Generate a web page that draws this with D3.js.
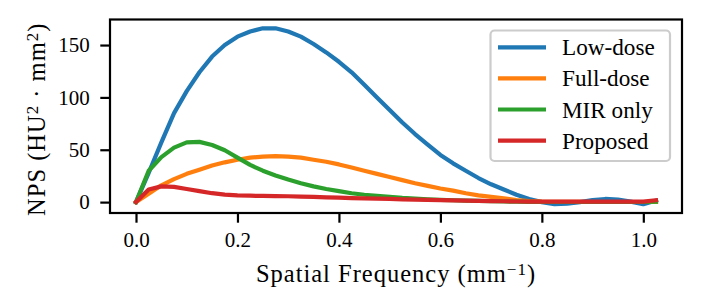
<!DOCTYPE html>
<html>
<head>
<meta charset="utf-8">
<script src="https://cdn.jsdelivr.net/npm/d3@7"></script>
<style>
  body { margin: 0; background: #fff; }
  svg text { font-family: "Liberation Serif", "DejaVu Serif", serif; fill: #000; }
</style>
</head>
<body>
<div id="chart"></div>
<script>
// spatial frequency samples (mm^-1)
const freq = [0, 0.025, 0.05, 0.075, 0.1, 0.125, 0.15, 0.175, 0.2, 0.225, 0.25, 0.275, 0.3, 0.325, 0.35, 0.375,
  0.4, 0.425, 0.45, 0.475, 0.5, 0.525, 0.55, 0.575, 0.6, 0.625, 0.65, 0.675, 0.7, 0.725, 0.75, 0.775,
  0.8, 0.825, 0.85, 0.875, 0.9, 0.925, 0.95, 0.975, 1.0, 1.025];

const lowDose = [0, 28, 57, 85, 106, 124, 139, 150, 158, 163, 166, 166, 163, 158, 151, 143,
  134, 124, 112, 100, 88, 76, 65, 55, 45, 37, 30, 23, 17, 12, 7, 3,
  0, -2, -1.5, 0, 2, 3, 2.5, 0.5, -2, 1.5];
const fullDose = [0, 8, 16, 22, 27, 31, 35, 38, 40.5, 42.5, 43.5, 44, 43.5, 42.5, 40.5, 38.5,
  36, 33, 30, 27, 24, 21, 18, 15.5, 13, 11, 8.5, 6.5, 5, 3.5, 2, 1,
  0.5, 0.3, 0.2, 0.2, 0.1, 0.1, 0.1, 0.1, 0.1, 0.2];
const mirOnly = [0, 30, 43, 52, 57, 57.5, 54.5, 49.5, 42.5, 35.5, 30, 25.5, 21.5, 18, 15, 12.5,
  10.5, 8.5, 7, 6, 5, 4, 3.3, 2.7, 2.2, 1.8, 1.4, 1.1, 0.8, 0.6, 0.4, 0.2,
  0.1, 0.1, 0.1, 0.1, 0.1, 0.1, 0.1, 0.1, 0.1, 0.3];
const proposed = [0, 12, 15, 14.5, 12.5, 10.5, 8.5, 7.2, 6.5, 6.1, 5.9, 5.7, 5.6, 5.3, 5.0, 4.6,
  4.3, 3.9, 3.6, 3.3, 3.0, 2.7, 2.4, 2.1, 1.9, 1.6, 1.4, 1.2, 1.0, 0.8, 0.6, 0.5,
  0.4, 0.4, 0.4, 0.4, 0.4, 0.4, 0.4, 0.4, 0.4, 1.8];

const seriesNames = ['Low-dose', 'Full-dose', 'MIR only', 'Proposed'];
const seriesValues = [lowDose, fullDose, mirOnly, proposed];
const colors = ['#1f77b4', '#ff7f0e', '#2ca02c', '#d62728'];

const xTicks = [0, 0.2, 0.4, 0.6, 0.8, 1.0];
const yTicks = [0, 50, 100, 150];

const width = 701, height = 307;
const box = { left: 110, right: 682, top: 19.5, bottom: 213 };
const lw = 2.2;     // 0.8pt at 200 dpi
const tickLen = 9.7;

const svg = d3.select('#chart').append('svg')
  .attr('width', width)
  .attr('height', height);

// matplotlib style 5% margins
const xExt = d3.extent(freq);
const xPad = (xExt[1] - xExt[0]) * 0.05;
const allVals = seriesValues.flat();
const yExt = d3.extent(allVals);
const yPad = (yExt[1] - yExt[0]) * 0.05;

const x = d3.scaleLinear().domain([xExt[0] - xPad, xExt[1] + xPad]).range([box.left, box.right]);
const y = d3.scaleLinear().domain([yExt[0] - yPad, yExt[1] + yPad]).range([box.bottom, box.top]);

// lines
const line = d3.line()
  .x((d, i) => x(freq[i]))
  .y(d => y(d));

const plot = svg.append('g');
seriesValues.forEach((vals, k) => {
  plot.append('path')
    .datum(vals)
    .attr('d', line)
    .attr('fill', 'none')
    .attr('stroke', colors[k])
    .attr('stroke-width', 4.2)
    .attr('stroke-linejoin', 'round')
    .attr('stroke-linecap', 'square');
});

// axes
const xAxis = d3.axisBottom(x).tickValues(xTicks).tickFormat(d3.format('.1f'))
  .tickSizeInner(tickLen).tickSizeOuter(0).tickPadding(9.7);
const yAxis = d3.axisLeft(y).tickValues(yTicks).tickFormat(d3.format('d'))
  .tickSizeInner(tickLen).tickSizeOuter(0).tickPadding(10.5);

const gx = svg.append('g').attr('transform', `translate(0,${box.bottom})`).call(xAxis);
const gy = svg.append('g').attr('transform', `translate(${box.left},0)`).call(yAxis);
[gx, gy].forEach(g => {
  g.select('.domain').remove();
  g.selectAll('.tick line').attr('stroke', '#000').attr('stroke-width', lw);
  g.selectAll('.tick text').attr('font-size', 21).attr('fill', '#000')
    .attr('font-family', '"Liberation Serif", serif');
});

// frame
svg.append('rect')
  .attr('x', box.left).attr('y', box.top)
  .attr('width', box.right - box.left).attr('height', box.bottom - box.top)
  .attr('fill', 'none').attr('stroke', '#000').attr('stroke-width', lw);

// axis labels
const xl = svg.append('text')
  .attr('x', (box.left + box.right) / 2).attr('y', 282)
  .attr('text-anchor', 'middle').attr('font-size', 24.5).attr('letter-spacing', 1);
xl.append('tspan').text('Spatial Frequency (mm');
xl.append('tspan').attr('baseline-shift', '40%').attr('font-size', 17).text('\u22121');
xl.append('tspan').text(')');

const yl = svg.append('text')
  .attr('transform', `translate(45,${(box.top + box.bottom) / 2 + 3}) rotate(-90)`)
  .attr('text-anchor', 'middle').attr('font-size', 24.5).attr('letter-spacing', 1);
yl.append('tspan').text('NPS (HU');
yl.append('tspan').attr('baseline-shift', '40%').attr('font-size', 17).text('2');
yl.append('tspan').text(' \u00b7 mm');
yl.append('tspan').attr('baseline-shift', '40%').attr('font-size', 17).text('2');
yl.append('tspan').text(')');

// legend
const lg = svg.append('g');
lg.append('rect')
  .attr('x', 490.5).attr('y', 30.5).attr('width', 179.5).attr('height', 130.5)
  .attr('rx', 4).attr('fill', '#fff').attr('fill-opacity', 0.8)
  .attr('stroke', '#cccccc').attr('stroke-width', lw);
seriesNames.forEach((name, k) => {
  const ry = 47.3 + k * 31.1;
  lg.append('line')
    .attr('x1', 498).attr('x2', 546).attr('y1', ry).attr('y2', ry)
    .attr('stroke', colors[k]).attr('stroke-width', 4.2);
  lg.append('text')
    .attr('x', 562).attr('y', ry + 8)
    .attr('font-size', 23.2).text(name);
});
</script>
</body>
</html>
